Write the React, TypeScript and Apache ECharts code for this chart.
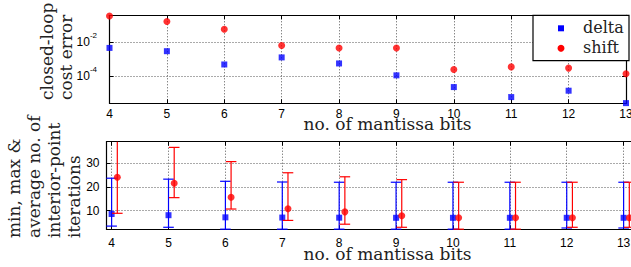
import React, { useEffect, useRef } from 'react';
import * as echarts from 'echarts';

// ---------- data ----------
const bits = [4, 5, 6, 7, 8, 9, 10, 11, 12, 13];
// closed-loop cost error, log10 values
const deltaLogErr = [-2.35, -2.54, -3.31, -2.9, -3.25, -3.94, -4.62, -5.2, -4.83, -5.55];
const shiftLogErr = [-0.5, -0.82, -1.27, -2.21, -2.35, -2.35, -3.6, -3.45, -3.52, -3.85];
// interior-point iterations
const deltaIterMin = [3.5, 3.0, 2.2, 2.2, 2.2, 2.2, 2.2, 2.2, 2.7, 2.7];
const deltaIterMax = [23.7, 23.3, 22.4, 22.1, 22, 22, 22, 22, 22, 22];
const deltaIterAvg = [8.6, 8.1, 7.2, 7.1, 7.05, 7.0, 7.0, 7.0, 7.0, 7.0];
const shiftIterMin = [8.9, 15.5, 10.7, 5.9, 4.3, 3.0, 2.2, 2.2, 3.0, 3.0];
const shiftIterMax = [41, 36.7, 30.7, 26, 24.3, 23.1, 22, 22, 22, 22];
const shiftIterAvg = [24.1, 21.6, 15.7, 10.8, 9.5, 7.9, 7.0, 7.0, 7.0, 7.0];
const errTicks = [-4, -2];
const iterTicks = [10, 20, 30];
const shiftOffset = 0.1;

const BLUE = '#0000ff';
const RED = '#ff0000';
const SANS = '"Liberation Sans", Arial, sans-serif';
const SERIF = '"DejaVu Serif", serif';
const TXT = '#222';

function errorBars(name: string, xs: number[], lo: number[], hi: number[], color: string) {
  return {
    type: 'custom',
    name,
    xAxisIndex: 2,
    yAxisIndex: 2,
    silent: true,
    z: 2,
    data: xs.map((x, i) => [x, lo[i], hi[i]]),
    renderItem: (params: any, api: any) => {
      const x = api.value(0);
      const pLo = api.coord([x, api.value(1)]);
      const pHi = api.coord([x, api.value(2)]);
      const cs = params.coordSys;
      const top = cs.y;
      const bottom = cs.y + cs.height;
      const yHi = Math.max(pHi[1], top);
      const yLo = Math.min(pLo[1], bottom);
      const hw = 5.3;
      const st = { stroke: color, lineWidth: 1.2 };
      const children: any[] = [
        { type: 'line', shape: { x1: pLo[0], y1: yLo, x2: pHi[0], y2: yHi }, style: st },
      ];
      if (pHi[1] >= top - 0.5)
        children.push({ type: 'line', shape: { x1: pHi[0] - hw, y1: pHi[1], x2: pHi[0] + hw, y2: pHi[1] }, style: st });
      if (pLo[1] <= bottom + 0.5)
        children.push({ type: 'line', shape: { x1: pLo[0] - hw, y1: pLo[1], x2: pLo[0] + hw, y2: pLo[1] }, style: st });
      return { type: 'group', children };
    },
  };
}

const axisLine = { show: true, lineStyle: { color: '#000', width: 1.2 } };
const tickIn = { show: true, inside: true, length: 4, lineStyle: { color: '#000', width: 1 } };
const dotted = { show: true, lineStyle: { color: '#555', width: 1, type: [1, 2] } };

export default function App() {
  const ref = useRef<HTMLDivElement>(null);
  useEffect(() => {
    if (!ref.current) return;
    const chart = echarts.init(ref.current, undefined, { renderer: 'svg' });
    const titleStyle = { fontFamily: SERIF, fontSize: 17, lineHeight: 9, fill: TXT, align: 'center', verticalAlign: 'middle' };
    const yTitle = (x: number, y: number, text: string) => ({
      type: 'text', x, y, rotation: Math.PI / 2,
      style: { text, fontFamily: SERIF, fontSize: 17, lineHeight: 12, fill: TXT, align: 'left', verticalAlign: 'middle' },
    });
    const option: any = {
      animation: false,
      backgroundColor: '#fff',
      grid: [
        { left: 109.5, top: 15.3, right: 5, height: 88, outerBoundsMode: 'none', containLabel: false },
        { left: 106.5, top: 141.7, right: -4, height: 87.6, outerBoundsMode: 'none', containLabel: false },
      ],
      xAxis: [
        {
          type: 'value', gridIndex: 0, min: 4, max: 13, interval: 1, position: 'bottom',
          axisLine, axisTick: tickIn, splitLine: dotted,
          axisLabel: { color: '#000', fontFamily: SANS, fontSize: 12, lineHeight: 9, margin: 6.5 },
        },
        {
          type: 'value', gridIndex: 0, min: 4, max: 13, interval: 1, position: 'top',
          axisLine, axisTick: tickIn, splitLine: { show: false }, axisLabel: { show: false },
        },
        {
          type: 'value', gridIndex: 1, min: 3.91, max: 13.2, position: 'bottom',
          axisLine, axisTick: { ...tickIn, customValues: bits }, splitLine: dotted,
          axisLabel: { color: '#000', fontFamily: SANS, fontSize: 12, lineHeight: 9, margin: 9, customValues: bits },
        },
        {
          type: 'value', gridIndex: 1, min: 3.91, max: 13.2, position: 'top',
          axisLine, axisTick: { ...tickIn, customValues: bits }, splitLine: { show: false }, axisLabel: { show: false },
        },
      ],
      yAxis: [
        {
          type: 'value', gridIndex: 0, min: -5.56, max: -0.46, position: 'left',
          axisLine, axisTick: { ...tickIn, customValues: errTicks }, splitLine: dotted,
          axisLabel: {
            customValues: errTicks, margin: 12.5,
            formatter: (v: number) => `{b|10}{s|${v}}`,
            rich: {
              b: { fontFamily: SANS, fontSize: 12, color: '#000' },
              s: { fontFamily: SANS, fontSize: 8, color: '#000', padding: [0, 0, 13, 0] },
            },
          },
        },
        {
          type: 'value', gridIndex: 0, min: -5.56, max: -0.46, position: 'right',
          axisLine, axisTick: { ...tickIn, customValues: errTicks }, splitLine: { show: false }, axisLabel: { show: false },
        },
        {
          type: 'value', gridIndex: 1, min: 2.15, max: 39.1, position: 'left',
          axisLine, axisTick: { ...tickIn, customValues: iterTicks }, splitLine: dotted,
          axisLabel: { customValues: iterTicks, margin: 7, color: '#000', fontFamily: SANS, fontSize: 12 },
        },
        {
          type: 'value', gridIndex: 1, min: 2.15, max: 39.1, position: 'right',
          axisLine, axisTick: { ...tickIn, customValues: iterTicks }, splitLine: { show: false }, axisLabel: { show: false },
        },
      ],
      series: [
        {
          type: 'scatter', name: 'delta', xAxisIndex: 0, yAxisIndex: 0, clip: false, z: 3,
          symbol: 'rect', symbolSize: 6, itemStyle: { color: BLUE },
          data: bits.map((b, i) => [b, deltaLogErr[i]]),
        },
        {
          type: 'scatter', name: 'shift', xAxisIndex: 0, yAxisIndex: 0, clip: false, z: 3,
          symbol: 'circle', symbolSize: 7, itemStyle: { color: RED },
          data: bits.map((b, i) => [b, shiftLogErr[i]]),
        },
        errorBars('delta range', bits, deltaIterMin, deltaIterMax, BLUE),
        {
          type: 'scatter', name: 'delta avg', xAxisIndex: 2, yAxisIndex: 2, clip: false, z: 3,
          symbol: 'rect', symbolSize: 6, itemStyle: { color: BLUE },
          data: bits.map((b, i) => [b, deltaIterAvg[i]]),
        },
        { ...errorBars('shift range', bits.map((b) => b + shiftOffset), shiftIterMin, shiftIterMax, RED), z: 4 },
        {
          type: 'scatter', name: 'shift avg', xAxisIndex: 2, yAxisIndex: 2, clip: false, z: 5,
          symbol: 'circle', symbolSize: 7, itemStyle: { color: RED },
          data: bits.map((b, i) => [b + shiftOffset, shiftIterAvg[i]]),
        },
      ],
      graphic: [
        // legend
        { type: 'rect', z: 100, shape: { x: 533, y: 15.3, width: 96, height: 45.4 }, style: { fill: '#fff', stroke: '#000', lineWidth: 1.2 } },
        { type: 'rect', z: 101, shape: { x: 558, y: 25.3, width: 6, height: 6 }, style: { fill: BLUE } },
        { type: 'circle', z: 101, shape: { cx: 561, cy: 48.3, r: 3.5 }, style: { fill: RED } },
        { type: 'text', z: 101, x: 583, y: 27.8, style: { text: 'delta', fontFamily: SERIF, fontSize: 16, fill: TXT, align: 'left', verticalAlign: 'middle' } },
        { type: 'text', z: 101, x: 583, y: 47.8, style: { text: 'shift', fontFamily: SERIF, fontSize: 16, fill: TXT, align: 'left', verticalAlign: 'middle' } },
        // x titles
        { type: 'text', x: 387.5, y: 123.6, style: { ...titleStyle, text: 'no. of mantissa bits' } },
        { type: 'text', x: 387.5, y: 253.9, style: { ...titleStyle, text: 'no. of mantissa bits' } },
        // y titles (rotated)
        yTitle(47.4, 100, 'closed-loop'),
        yTitle(65.8, 100, 'cost error'),
        yTitle(13.8, 238, 'min, max &'),
        yTitle(34.1, 238, 'average no. of'),
        yTitle(54.1, 238, 'interior-point'),
        yTitle(74.1, 238, 'iterations'),
      ],
    };
    chart.setOption(option);
    return () => chart.dispose();
  }, []);
  return <div ref={ref} style={{ position: 'fixed', left: 0, top: 0, width: 631, height: 267 }} />;
}
